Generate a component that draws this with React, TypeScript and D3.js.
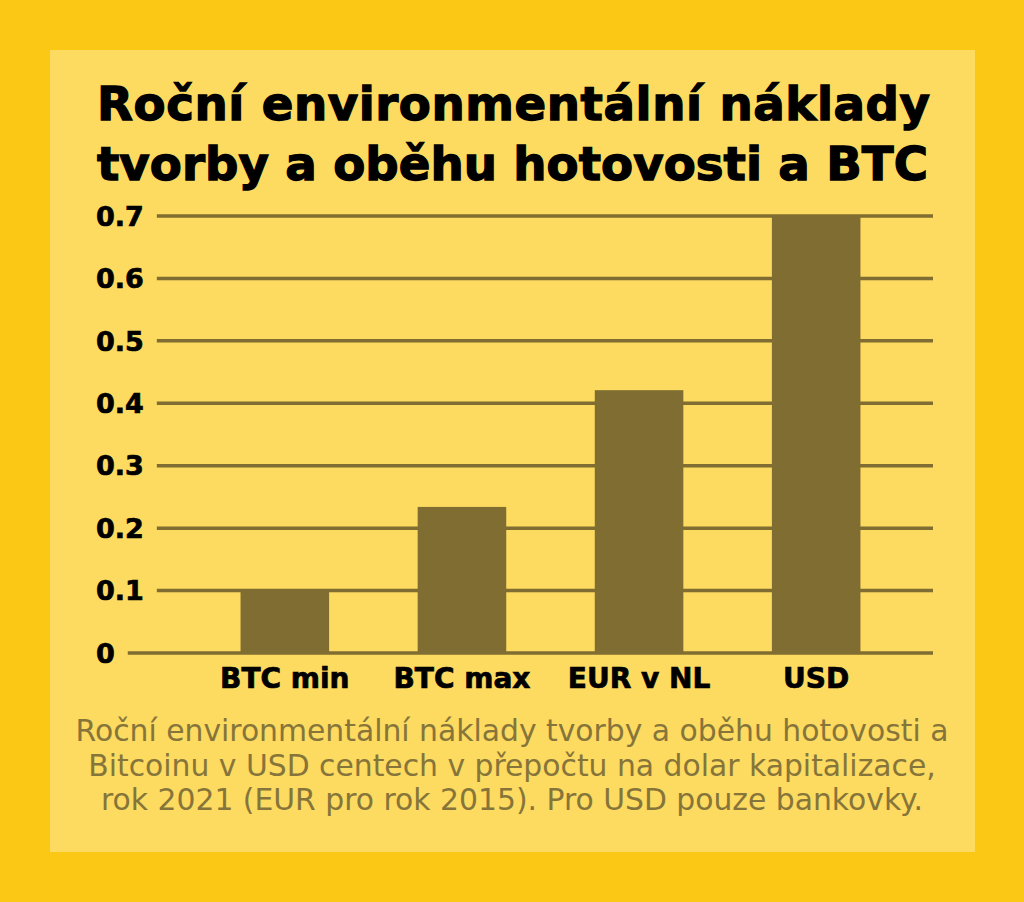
import { useMemo } from 'react';
import * as d3 from 'd3';

const categories = ['BTC min', 'BTC max', 'EUR v NL', 'USD'];
const values = [0.1, 0.234, 0.421, 0.7];
const yTicks = [0, 0.1, 0.2, 0.3, 0.4, 0.5, 0.6, 0.7];
const titleLines = ['Roční environmentální náklady', 'tvorby a oběhu hotovosti a BTC'];
const captionLines = [
  'Roční environmentální náklady tvorby a oběhu hotovosti a',
  'Bitcoinu v USD centech v přepočtu na dolar kapitalizace,',
  'rok 2021 (EUR pro rok 2015). Pro USD pouze bankovky.',
];

const W = 1024;
const H = 902;
const FONT = '"DejaVu Sans", sans-serif';
const OUTER = '#fbc816';
const PANEL = '#fdda60';
const BAR = '#7f6d31';
const CAPTION = '#86753a';

const ctx = typeof document !== 'undefined' ? document.createElement('canvas').getContext('2d') : null;
function measure(text: string, size: number, weight: number) {
  if (!ctx) return text.length * size * 0.6;
  ctx.font = `${weight} ${size}px ${FONT}`;
  return ctx.measureText(text).width;
}
// font size so that the widest line fills the given width
function fitSize(lines: string[], width: number, weight: number) {
  const w = d3.max(lines, (l) => measure(l, 100, weight)) ?? 1;
  return (100 * width) / w;
}

export default function App() {
  const m = { left: 96, right: 933, top: 216, bottom: 653 };

  const y = useMemo(() => d3.scaleLinear().domain([0, 0.7]).range([m.bottom, m.top]), []);
  const x = useMemo(
    () => d3.scaleBand<string>().domain(categories).range([152, 949]).paddingInner(0.5).paddingOuter(0.5),
    []
  );

  const titleSize = fitSize(titleLines, 830, 700);
  const captionSize = fitSize(captionLines, 873, 400);
  const tickSize = 27;
  const catSize = 28;
  const titleWidths = [833, 831];

  return (
    <div style={{ position: 'absolute', left: 0, top: 0 }}>
      <svg width={W} height={H} style={{ display: 'block' }}>
        <rect width={W} height={H} fill={OUTER} />
        <rect x={50} y={50} width={925} height={802} fill={PANEL} />

        {titleLines.map((t, i) => (
          <text
            key={t}
            x={97}
            y={120 + i * 60}
            textLength={titleWidths[i]}
            lengthAdjust="spacing"
            fontFamily={FONT}
            fontWeight={700}
            fontSize={titleSize}
            fill="#000"
            stroke="#000"
            strokeWidth={1.3}
          >
            {t}
          </text>
        ))}

        {yTicks.map((t) => {
          const label = d3.format('~g')(t);
          const x1 = m.left + measure(label, tickSize, 700) + 13;
          return (
            <g key={t}>
              <line x1={x1} x2={m.right} y1={y(t)} y2={y(t)} stroke={BAR} strokeWidth={3.5} />
              <text
                x={m.left}
                y={y(t)}
                dy="0.36em"
                fontFamily={FONT}
                fontWeight={700}
                fontSize={tickSize}
                fill="#000"
                stroke="#000"
                strokeWidth={0.7}
              >
                {label}
              </text>
            </g>
          );
        })}

        {categories.map((c, i) => (
          <g key={c}>
            <rect
              x={x(c)}
              y={y(values[i])}
              width={x.bandwidth()}
              height={y(0) - y(values[i])}
              fill={BAR}
            />
            <text
              x={(x(c) ?? 0) + x.bandwidth() / 2}
              y={688}
              textAnchor="middle"
              fontFamily={FONT}
              fontWeight={700}
              fontSize={catSize}
              fill="#000"
              stroke="#000"
              strokeWidth={0.7}
            >
              {c}
            </text>
          </g>
        ))}

        {captionLines.map((t, i) => (
          <text
            key={t}
            x={512}
            y={741 + i * 34.5}
            textAnchor="middle"
            fontFamily={FONT}
            fontSize={captionSize}
            fill={CAPTION}
          >
            {t}
          </text>
        ))}
      </svg>
    </div>
  );
}
